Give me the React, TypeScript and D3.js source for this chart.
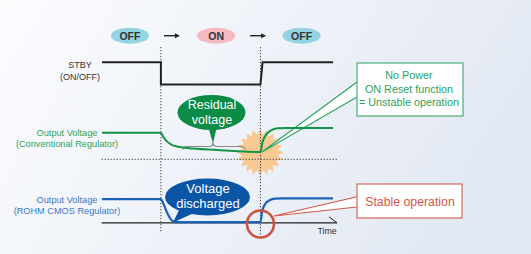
import React from "react";
import * as d3 from "d3";

const W = 531;
const H = 254;

// states shown above the timing diagram
const phaseLabels = ["OFF", "ON", "OFF"];
const phaseTimes = [12.1, 49.4, 86.4];
const phaseColors = ["#92d4e1", "#f5b9c2", "#92d4e1"];

// STBY switching instants (time units 0..100)
const eventTimes = [25.5, 68.6];

// STBY signal
const stbyTimes = [0, 25.5, 25.5, 68.6, 69.5, 100];
const stbyValues = [1, 1, 0, 0, 1, 1];

// output voltage, conventional regulator (residual voltage stays)
const convTimes = [0, 25.5, 26.5, 28, 30, 33, 37, 50, 68.6, 69.5, 71, 73, 76, 80, 100];
const convValues = [0.85, 0.85, 0.72, 0.58, 0.47, 0.4, 0.36, 0.3, 0.23, 0.55, 0.78, 0.92, 0.99, 1, 1];

// output voltage, ROHM CMOS regulator (discharged)
const rohmTimes = [0, 25.5, 26.5, 28, 29.5, 31, 33, 68.6, 69.3, 70.5, 72.5, 75, 78, 100];
const rohmValues = [0.97, 0.97, 0.8, 0.45, 0.18, 0.05, 0.03, 0.03, 0.45, 0.75, 0.92, 0.99, 1, 1];

const FONT = "'Liberation Sans', Arial, Helvetica, sans-serif";

export default function App() {
  const x = d3.scaleLinear().domain([0, 100]).range([102, 333]);
  const yStby = d3.scaleLinear().domain([0, 1]).range([84.5, 62.3]);
  const yConv = d3.scaleLinear().domain([0, 1]).range([159.3, 128]);
  const yRohm = d3.scaleLinear().domain([0, 1]).range([222.8, 198.3]);

  const stbyLine = d3
    .line<number>()
    .x((t) => x(t))
    .y((_, i) => yStby(stbyValues[i]))(stbyTimes);

  const convLine = d3
    .line<number>()
    .x((t) => x(t))
    .y((_, i) => yConv(convValues[i]))
    .curve(d3.curveMonotoneX)(convTimes);

  const rohmLine = d3
    .line<number>()
    .x((t) => x(t))
    .y((_, i) => yRohm(rohmValues[i]))
    .curve(d3.curveMonotoneX)(rohmTimes);

  // starburst behind the unstable restart
  const spikes = 20;
  const burstPts = d3.range(spikes * 2).map((i) => [
    (i * Math.PI) / spikes,
    i % 2 === 0 ? 23.5 : 18,
  ]) as [number, number][];
  const burst = d3.lineRadial().curve(d3.curveLinearClosed)(burstPts);

  const ev0 = x(eventTimes[0]);
  const ev1 = x(eventTimes[1]);
  const conv0 = yConv(0);
  const rohm0 = yRohm(0);

  return (
    <svg
      width={W}
      height={H}
      style={{ position: "absolute", left: 0, top: 0 }}
      fontFamily={FONT}
    >
      <defs>
        <linearGradient id="bg" x1="0" y1="0" x2="1" y2="0.3">
          <stop offset="0" stopColor="#fbfcfe" />
          <stop offset="1" stopColor="#e3e9f3" />
        </linearGradient>
      </defs>
      <rect width={W} height={H} fill="url(#bg)" />

      {/* phase labels */}
      {phaseLabels.map((p, i) => {
        const cx = x(phaseTimes[i]);
        return (
          <g key={i}>
            <ellipse cx={cx} cy={35.7} rx={19} ry={8} fill={phaseColors[i]} />
            <text x={cx} y={39.6} textAnchor="middle" fontSize={10.5} fontWeight="bold" fill="#333">
              {p}
            </text>
            {i < phaseLabels.length - 1 && (
              <g>
                <line x1={cx + 34} x2={cx + 47} y1={35.7} y2={35.7} stroke="#222" strokeWidth={1.4} />
                <path d={`M${cx + 50},35.7 L${cx + 45},33.2 L${cx + 45},38.2 Z`} fill="#222" />
              </g>
            )}
          </g>
        );
      })}

      {/* starburst */}
      <path d={burst ?? ""} transform={`translate(${ev1 - 0.5},152.5)`} fill="#f8c992" />

      {/* callout tails */}
      <path d={`M358,82 L262,152 L358,97 Z`} fill="#fff" />
      <path d={`M357,82 L262,152 L357,97`} fill="none" stroke="#2aa35c" strokeWidth={1.1} />
      <path d={`M358,196.7 L274,216 L358,207 Z`} fill="#fff" />
      <path d={`M357,196.7 L274,216 L357,207`} fill="none" stroke="#d0584a" strokeWidth={1.1} />

      {/* dotted guides */}
      <line x1={ev0} x2={ev0} y1={47} y2={233} stroke="#444" strokeWidth={1} strokeDasharray="1.3,1.7" />
      <line x1={ev1} x2={ev1} y1={47} y2={236} stroke="#444" strokeWidth={1} strokeDasharray="1.3,1.7" />
      <line x1={101.6} x2={337} y1={conv0} y2={conv0} stroke="#444" strokeWidth={1} strokeDasharray="1.3,1.7" />

      {/* time axis */}
      <line x1={101.6} x2={337} y1={rohm0} y2={rohm0} stroke="#222" strokeWidth={1.3} />
      <line x1={329} x2={337} y1={216.8} y2={rohm0} stroke="#222" strokeWidth={1} />
      <text x={327} y={234} textAnchor="middle" fontSize={8.8} fill="#333">
        Time
      </text>

      {/* row labels */}
      <text textAnchor="middle" fontSize={9} fill="#333">
        <tspan x={80} y={68.3}>STBY</tspan>
        <tspan x={80} y={79.5}>(ON/OFF)</tspan>
      </text>
      <text textAnchor="middle" fontSize={9.2} fill="#2ba55c">
        <tspan x={67} y={136}>Output Voltage</tspan>
        <tspan x={67} y={147}>(Conventional Regulator)</tspan>
      </text>
      <text textAnchor="middle" fontSize={9.2} fill="#3877c4">
        <tspan x={67} y={202.5}>Output Voltage</tspan>
        <tspan x={67} y={213.8}>(ROHM CMOS Regulator)</tspan>
      </text>

      {/* brace */}
      <path
        d="M183,149.5 Q183,146.5 187,146.5 L209,146.5 Q213,146.5 213,142.5 Q213,146.5 217,146.5 L241,146.5 Q245,146.5 245,149.5"
        fill="none"
        stroke="#888"
        strokeWidth={1.2}
      />

      {/* signals */}
      <path d={stbyLine ?? ""} fill="none" stroke="#222" strokeWidth={2} />
      <path d={convLine ?? ""} fill="none" stroke="#139449" strokeWidth={2} />
      <path d={rohmLine ?? ""} fill="none" stroke="#1a63b6" strokeWidth={2.2} />

      {/* residual voltage bubble */}
      <path d="M208,126 L213,143.5 L217,126 Z" fill="#0b8c46" />
      <ellipse cx={211.5} cy={112.5} rx={34} ry={17.5} fill="#0b8c46" />
      <text textAnchor="middle" fontSize={12.5} fill="#fff">
        <tspan x={212} y={108.5}>Residual</tspan>
        <tspan x={212} y={123.5}>voltage</tspan>
      </text>

      {/* voltage discharged bubble */}
      <path d="M180,208 L173,222.5 L194,213 Z" fill="#0a55a6" />
      <ellipse cx={207.5} cy={197} rx={42.5} ry={18.5} fill="#0a55a6" />
      <text textAnchor="middle" fontSize={13} fill="#fff">
        <tspan x={208} y={193}>Voltage</tspan>
        <tspan x={208} y={207.5}>discharged</tspan>
      </text>

      {/* red ring */}
      <circle cx={ev1} cy={224} r={13.5} fill="none" stroke="#c7553f" strokeWidth={2.6} />

      {/* callout boxes */}
      <rect x={357} y={63} width={106} height={53} fill="#fff" stroke="#4aae74" strokeWidth={1.2} />
      <text textAnchor="middle" fontSize={10.8} fill="#2aa35c">
        <tspan x={409} y={78.5}>No Power</tspan>
        <tspan x={409} y={92.5}>ON Reset function</tspan>
        <tspan x={409} y={106}>= Unstable operation</tspan>
      </text>
      <rect x={357} y={184} width={105} height={34} fill="#fff" stroke="#d66a5d" strokeWidth={1.2} />
      <text x={410} y={206} textAnchor="middle" fontSize={12.3} fill="#d0584a">
        Stable operation
      </text>
    </svg>
  );
}
